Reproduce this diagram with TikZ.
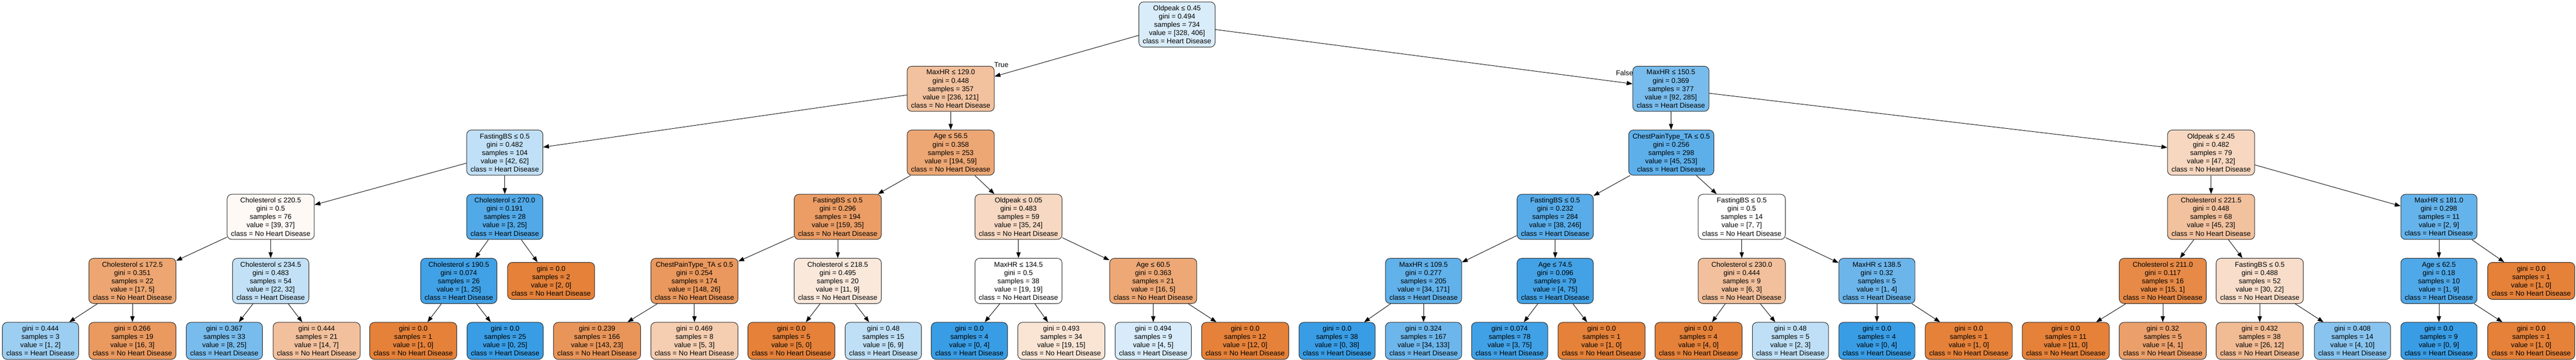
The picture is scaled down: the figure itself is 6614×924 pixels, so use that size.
\documentclass[tikz,border=0pt]{standalone}
\usepackage{fontspec}
\setmainfont{Liberation Sans}
\usetikzlibrary{arrows.meta}
\definecolor{dtor}{HTML}{E58139}
\definecolor{dtbl}{HTML}{399DE5}
\tikzset{
  tn/.style={draw=black!85, line width=1.3pt, rounded corners=12pt, align=center,
    inner xsep=10pt, inner ysep=0pt, minimum height=116pt,
    font=\fontsize{18}{21.2}\selectfont},
  lf/.style={tn, minimum height=95pt},
  ed/.style={line width=1.2pt, draw=black, -{Triangle[length=15pt,width=11pt]}},
  elab/.style={font=\fontsize{18}{21.2}\selectfont, inner sep=0pt}
}
\begin{document}
\begin{tikzpicture}[x=1pt,y=-1pt]
\useasboundingbox (0,0) rectangle (6614,924);
% Level 0
\node[tn, fill=dtbl!19!white] (n0) at (3022,63) {Oldpeak ≤ 0.45\\gini = 0.494\\samples = 734\\value = [328, 406]\\class = Heart Disease};
% Level 1
\node[tn, fill=dtor!49!white] (n1) at (2441,228) {MaxHR ≤ 129.0\\gini = 0.448\\samples = 357\\value = [236, 121]\\class = No Heart Disease};
\node[tn, fill=dtbl!68!white] (n2) at (4290,228) {MaxHR ≤ 150.5\\gini = 0.369\\samples = 377\\value = [92, 285]\\class = Heart Disease};
% Level 2
\node[tn, fill=dtbl!32!white] (n3) at (1296,392) {FastingBS ≤ 0.5\\gini = 0.482\\samples = 104\\value = [42, 62]\\class = Heart Disease};
\node[tn, fill=dtor!70!white] (n4) at (2441,392) {Age ≤ 56.5\\gini = 0.358\\samples = 253\\value = [194, 59]\\class = No Heart Disease};
\node[tn, fill=dtbl!82!white] (n5) at (4291,392) {ChestPainType\_TA ≤ 0.5\\gini = 0.256\\samples = 298\\value = [45, 253]\\class = Heart Disease};
\node[tn, fill=dtor!32!white] (n6) at (5677,392) {Oldpeak ≤ 2.45\\gini = 0.482\\samples = 79\\value = [47, 32]\\class = No Heart Disease};
% Level 3
\node[tn, fill=dtor!5!white] (n7) at (695,557) {Cholesterol ≤ 220.5\\gini = 0.5\\samples = 76\\value = [39, 37]\\class = No Heart Disease};
\node[tn, fill=dtbl!88!white] (n8) at (1296,557) {Cholesterol ≤ 270.0\\gini = 0.191\\samples = 28\\value = [3, 25]\\class = Heart Disease};
\node[tn, fill=dtor!78!white] (n9) at (2151,557) {FastingBS ≤ 0.5\\gini = 0.296\\samples = 194\\value = [159, 35]\\class = No Heart Disease};
\node[tn, fill=dtor!31!white] (n10) at (2615,557) {Oldpeak ≤ 0.05\\gini = 0.483\\samples = 59\\value = [35, 24]\\class = No Heart Disease};
\node[tn, fill=dtbl!85!white] (n11) at (3993,557) {FastingBS ≤ 0.5\\gini = 0.232\\samples = 284\\value = [38, 246]\\class = Heart Disease};
\node[tn, fill=white] (n12) at (4472,557) {FastingBS ≤ 0.5\\gini = 0.5\\samples = 14\\value = [7, 7]\\class = No Heart Disease};
\node[tn, fill=dtor!49!white] (n13) at (5677,557) {Cholesterol ≤ 221.5\\gini = 0.448\\samples = 68\\value = [45, 23]\\class = No Heart Disease};
\node[tn, fill=dtbl!78!white] (n14) at (6262,557) {MaxHR ≤ 181.0\\gini = 0.298\\samples = 11\\value = [2, 9]\\class = Heart Disease};
% Level 4
\node[tn, fill=dtor!71!white] (n15) at (340,721.5) {Cholesterol ≤ 172.5\\gini = 0.351\\samples = 22\\value = [17, 5]\\class = No Heart Disease};
\node[tn, fill=dtbl!31!white] (n16) at (695,721.5) {Cholesterol ≤ 234.5\\gini = 0.483\\samples = 54\\value = [22, 32]\\class = Heart Disease};
\node[tn, fill=dtbl!96!white] (n17) at (1178,721.5) {Cholesterol ≤ 190.5\\gini = 0.074\\samples = 26\\value = [1, 25]\\class = Heart Disease};
\node[lf, fill=dtor] (n18) at (1415,721.5) {gini = 0.0\\samples = 2\\value = [2, 0]\\class = No Heart Disease};
\node[tn, fill=dtor!82!white] (n19) at (1783,721.5) {ChestPainType\_TA ≤ 0.5\\gini = 0.254\\samples = 174\\value = [148, 26]\\class = No Heart Disease};
\node[tn, fill=dtor!18!white] (n20) at (2151,721.5) {Cholesterol ≤ 218.5\\gini = 0.495\\samples = 20\\value = [11, 9]\\class = No Heart Disease};
\node[tn, fill=white] (n21) at (2615,721.5) {MaxHR ≤ 134.5\\gini = 0.5\\samples = 38\\value = [19, 19]\\class = No Heart Disease};
\node[tn, fill=dtor!69!white] (n22) at (2961,721.5) {Age ≤ 60.5\\gini = 0.363\\samples = 21\\value = [16, 5]\\class = No Heart Disease};
\node[tn, fill=dtbl!80!white] (n23) at (3655,721.5) {MaxHR ≤ 109.5\\gini = 0.277\\samples = 205\\value = [34, 171]\\class = Heart Disease};
\node[tn, fill=dtbl!95!white] (n24) at (3993,721.5) {Age ≤ 74.5\\gini = 0.096\\samples = 79\\value = [4, 75]\\class = Heart Disease};
\node[tn, fill=dtor!50!white] (n25) at (4472,721.5) {Cholesterol ≤ 230.0\\gini = 0.444\\samples = 9\\value = [6, 3]\\class = No Heart Disease};
\node[tn, fill=dtbl!75!white] (n26) at (4819,721.5) {MaxHR ≤ 138.5\\gini = 0.32\\samples = 5\\value = [1, 4]\\class = Heart Disease};
\node[tn, fill=dtor!93!white] (n27) at (5553,721.5) {Cholesterol ≤ 211.0\\gini = 0.117\\samples = 16\\value = [15, 1]\\class = No Heart Disease};
\node[tn, fill=dtor!27!white] (n28) at (5802,721.5) {FastingBS ≤ 0.5\\gini = 0.488\\samples = 52\\value = [30, 22]\\class = No Heart Disease};
\node[tn, fill=dtbl!89!white] (n29) at (6262,721.5) {Age ≤ 62.5\\gini = 0.18\\samples = 10\\value = [1, 9]\\class = Heart Disease};
\node[lf, fill=dtor] (n30) at (6499,721.5) {gini = 0.0\\samples = 1\\value = [1, 0]\\class = No Heart Disease};
% Level 5 leaves
\node[lf, fill=dtbl!50!white] (l1) at (104,875.5) {gini = 0.444\\samples = 3\\value = [1, 2]\\class = Heart Disease};
\node[lf, fill=dtor!81!white] (l2) at (340,875.5) {gini = 0.266\\samples = 19\\value = [16, 3]\\class = No Heart Disease};
\node[lf, fill=dtbl!68!white] (l3) at (576,875.5) {gini = 0.367\\samples = 33\\value = [8, 25]\\class = Heart Disease};
\node[lf, fill=dtor!50!white] (l4) at (813,875.5) {gini = 0.444\\samples = 21\\value = [14, 7]\\class = No Heart Disease};
\node[lf, fill=dtor] (l5) at (1061,875.5) {gini = 0.0\\samples = 1\\value = [1, 0]\\class = No Heart Disease};
\node[lf, fill=dtbl] (l6) at (1297,875.5) {gini = 0.0\\samples = 25\\value = [0, 25]\\class = Heart Disease};
\node[lf, fill=dtor!84!white] (l7) at (1533,875.5) {gini = 0.239\\samples = 166\\value = [143, 23]\\class = No Heart Disease};
\node[lf, fill=dtor!40!white] (l8) at (1783,875.5) {gini = 0.469\\samples = 8\\value = [5, 3]\\class = No Heart Disease};
\node[lf, fill=dtor] (l9) at (2032,875.5) {gini = 0.0\\samples = 5\\value = [5, 0]\\class = No Heart Disease};
\node[lf, fill=dtbl!33!white] (l10) at (2268,875.5) {gini = 0.48\\samples = 15\\value = [6, 9]\\class = Heart Disease};
\node[lf, fill=dtbl] (l11) at (2489,875.5) {gini = 0.0\\samples = 4\\value = [0, 4]\\class = Heart Disease};
\node[lf, fill=dtor!21!white] (l12) at (2725,875.5) {gini = 0.493\\samples = 34\\value = [19, 15]\\class = No Heart Disease};
\node[lf, fill=dtbl!20!white] (l13) at (2961,875.5) {gini = 0.494\\samples = 9\\value = [4, 5]\\class = Heart Disease};
\node[lf, fill=dtor] (l14) at (3197,875.5) {gini = 0.0\\samples = 12\\value = [12, 0]\\class = No Heart Disease};
\node[lf, fill=dtbl] (l15) at (3433,875.5) {gini = 0.0\\samples = 38\\value = [0, 38]\\class = Heart Disease};
\node[lf, fill=dtbl!74!white] (l16) at (3655,875.5) {gini = 0.324\\samples = 167\\value = [34, 133]\\class = Heart Disease};
\node[lf, fill=dtbl!96!white] (l17) at (3876,875.5) {gini = 0.074\\samples = 78\\value = [3, 75]\\class = Heart Disease};
\node[lf, fill=dtor] (l18) at (4112,875.5) {gini = 0.0\\samples = 1\\value = [1, 0]\\class = No Heart Disease};
\node[lf, fill=dtor] (l19) at (4361,875.5) {gini = 0.0\\samples = 4\\value = [4, 0]\\class = No Heart Disease};
\node[lf, fill=dtbl!33!white] (l20) at (4597,875.5) {gini = 0.48\\samples = 5\\value = [2, 3]\\class = Heart Disease};
\node[lf, fill=dtbl] (l21) at (4819,875.5) {gini = 0.0\\samples = 4\\value = [0, 4]\\class = Heart Disease};
\node[lf, fill=dtor] (l22) at (5055,875.5) {gini = 0.0\\samples = 1\\value = [1, 0]\\class = No Heart Disease};
\node[lf, fill=dtor] (l23) at (5304,875.5) {gini = 0.0\\samples = 11\\value = [11, 0]\\class = No Heart Disease};
\node[lf, fill=dtor!75!white] (l24) at (5553,875.5) {gini = 0.32\\samples = 5\\value = [4, 1]\\class = No Heart Disease};
\node[lf, fill=dtor!54!white] (l25) at (5802,875.5) {gini = 0.432\\samples = 38\\value = [26, 12]\\class = No Heart Disease};
\node[lf, fill=dtbl!60!white] (l26) at (6040,875.5) {gini = 0.408\\samples = 14\\value = [4, 10]\\class = Heart Disease};
\node[lf, fill=dtbl] (l27) at (6262,875.5) {gini = 0.0\\samples = 9\\value = [0, 9]\\class = Heart Disease};
\node[lf, fill=dtor] (l28) at (6499,875.5) {gini = 0.0\\samples = 1\\value = [1, 0]\\class = No Heart Disease};
% Edges
\draw[ed] (n0) -- (n1);
\draw[ed] (n0) -- (n2);
\draw[ed] (n1) -- (n3);
\draw[ed] (n1) -- (n4);
\draw[ed] (n2) -- (n5);
\draw[ed] (n2) -- (n6);
\draw[ed] (n3) -- (n7);
\draw[ed] (n3) -- (n8);
\draw[ed] (n4) -- (n9);
\draw[ed] (n4) -- (n10);
\draw[ed] (n5) -- (n11);
\draw[ed] (n5) -- (n12);
\draw[ed] (n6) -- (n13);
\draw[ed] (n6) -- (n14);
\draw[ed] (n7) -- (n15);
\draw[ed] (n7) -- (n16);
\draw[ed] (n8) -- (n17);
\draw[ed] (n8) -- (n18);
\draw[ed] (n9) -- (n19);
\draw[ed] (n9) -- (n20);
\draw[ed] (n10) -- (n21);
\draw[ed] (n10) -- (n22);
\draw[ed] (n11) -- (n23);
\draw[ed] (n11) -- (n24);
\draw[ed] (n12) -- (n25);
\draw[ed] (n12) -- (n26);
\draw[ed] (n13) -- (n27);
\draw[ed] (n13) -- (n28);
\draw[ed] (n14) -- (n29);
\draw[ed] (n14) -- (n30);
\draw[ed] (n15) -- (l1);
\draw[ed] (n15) -- (l2);
\draw[ed] (n16) -- (l3);
\draw[ed] (n16) -- (l4);
\draw[ed] (n17) -- (l5);
\draw[ed] (n17) -- (l6);
\draw[ed] (n19) -- (l7);
\draw[ed] (n19) -- (l8);
\draw[ed] (n20) -- (l9);
\draw[ed] (n20) -- (l10);
\draw[ed] (n21) -- (l11);
\draw[ed] (n21) -- (l12);
\draw[ed] (n22) -- (l13);
\draw[ed] (n22) -- (l14);
\draw[ed] (n23) -- (l15);
\draw[ed] (n23) -- (l16);
\draw[ed] (n24) -- (l17);
\draw[ed] (n24) -- (l18);
\draw[ed] (n25) -- (l19);
\draw[ed] (n25) -- (l20);
\draw[ed] (n26) -- (l21);
\draw[ed] (n26) -- (l22);
\draw[ed] (n27) -- (l23);
\draw[ed] (n27) -- (l24);
\draw[ed] (n28) -- (l25);
\draw[ed] (n28) -- (l26);
\draw[ed] (n29) -- (l27);
\draw[ed] (n29) -- (l28);
% Edge labels
\node[elab] (tl) at (2571,166) {True};
\node[elab] (fl) at (4171,188) {False};
\end{tikzpicture}
\end{document}
